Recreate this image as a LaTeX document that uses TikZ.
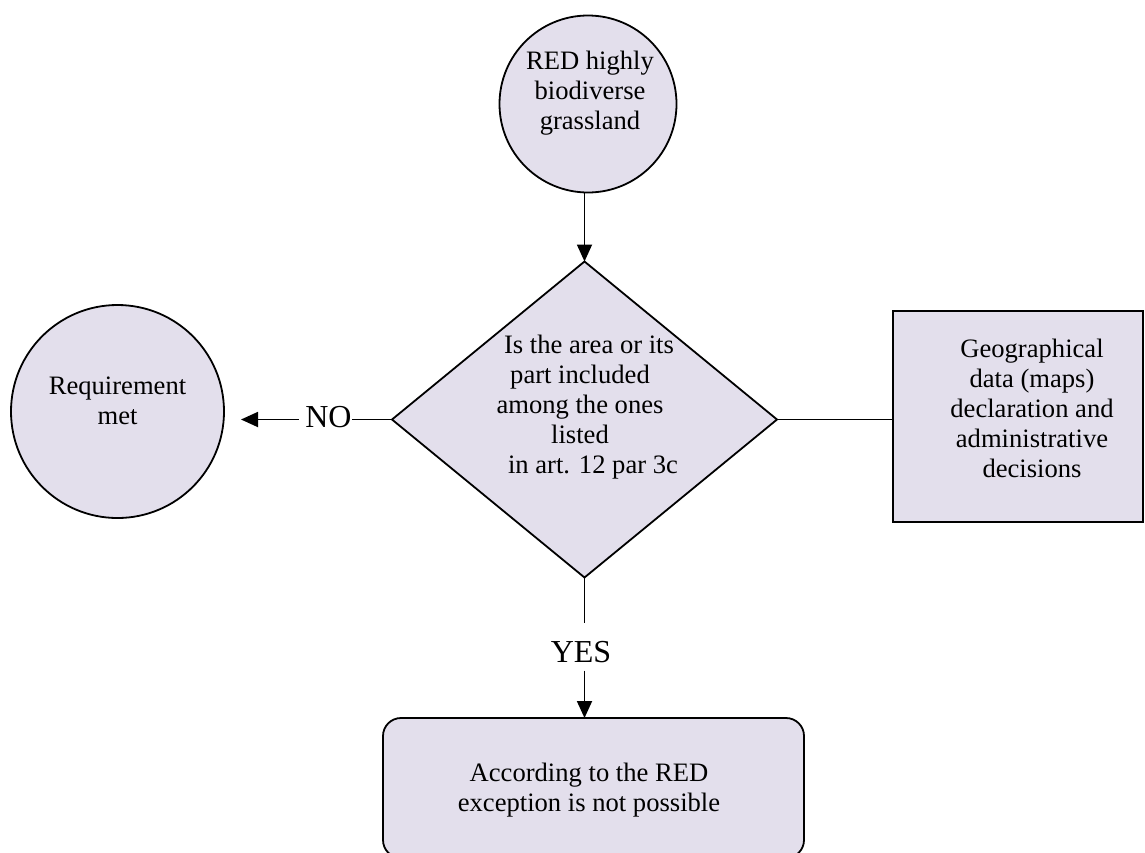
\documentclass[tikz,border=0pt]{standalone}
\usepackage{fontspec}
\setmainfont{Liberation Serif}
\usetikzlibrary{shapes.geometric,arrows.meta}
\definecolor{boxfill}{RGB}{227,223,236}
\begin{document}
\begin{tikzpicture}[x=0.5pt,y=-0.5pt,
  shapebox/.style={draw=black,line width=0.9pt,fill=boxfill,inner sep=0pt,outer sep=0pt},
  txt/.style={align=center,font=\fontsize{13.3}{15}\selectfont,inner sep=0pt},
  lbl/.style={font=\fontsize{16}{19}\selectfont,inner sep=0pt},
  conn/.style={line width=0.9pt},
  arr/.style={conn,-{Triangle[length=8.5pt,width=7.5pt]}}]
\useasboundingbox (0,0) rectangle (1145,852);
\clip (0,0) rectangle (1145,852);
% shapes
\node[shapebox,circle,minimum size=88.5pt] (top) at (588,104) {};
\node[txt] (toptxt) at (590,93) {RED highly\\biodiverse\\grassland};
\node[shapebox,diamond,minimum width=192.5pt,minimum height=158pt] (dia) at (584.5,419.5) {};
\node[txt] (diatxt) at (580,407.5) {\hspace*{9pt}Is the area or its\\part included\\among the ones\\listed\\\hspace*{13pt}in art. 12 par 3c};
\node[shapebox,circle,minimum size=106.5pt] (req) at (117.5,411.5) {};
\node[txt] (reqtxt) at (117.5,401) {Requirement\\met};
\node[shapebox,rectangle,minimum width=125pt,minimum height=105.5pt] (geo) at (1018,416.5) {};
\node[txt] (geotxt) at (1032,408.5) {Geographical\\data (maps)\\declaration and\\administrative\\decisions};
\node[shapebox,rectangle,rounded corners=9pt,minimum width=210.5pt,minimum height=70pt] (res) at (593.5,788) {};
\node[txt] (restxt) at (589,790) {According to the RED\\exception is not possible};
\node[lbl] (no) at (328.5,417) {NO};
\node[lbl] (yes) at (581,652.5) {YES};
% connectors
\draw[arr] (dia.north |- top.south) -- (dia.north);
\draw[conn] (dia.west) -- (dia.west -| no.east);
\draw[arr,shorten <=3pt,shorten >=8.5pt] (no.west |- dia.west) -- (req.east |- dia.west);
\draw[conn] (dia.east) -- (dia.east -| geo.west);
\draw[conn,shorten >=9pt] (dia.south) -- (dia.south |- yes.north);
\draw[arr,shorten <=3.5pt] (dia.south |- yes.south) -- (dia.south |- res.north);
\end{tikzpicture}
\end{document}
